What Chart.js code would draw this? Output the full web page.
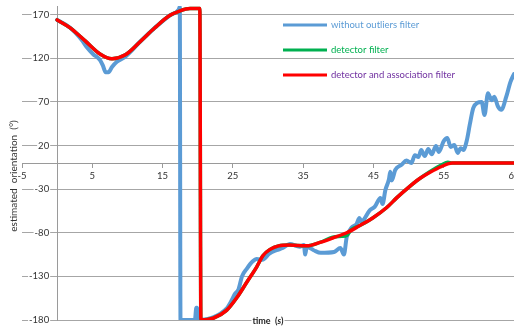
<!DOCTYPE html>
<html>
<head>
<meta charset="utf-8">
<script src="https://cdn.jsdelivr.net/npm/chart.js@4/dist/chart.umd.min.js"></script>
<style>
  html, body { margin: 0; padding: 0; background: #fff; }
  canvas { display: block; }
</style>
</head>
<body>
<canvas id="c" width="514" height="328"></canvas>
<script>
// Estimated orientation over time for three filtering variants.
const seriesNames = ['without outliers filter', 'detector filter', 'detector and association filter'];

// without outliers filter
const rawTime = [0, 1.85, 3.5, 4.2, 5.1, 6.1, 6.5, 6.9, 7.3, 7.8, 8.5, 9.7, 11.8, 13.9, 16, 17.3, 17.45, 17.55,
  19.6, 19.8, 19.9, 20.1, 20.4, 22.2, 24.1, 24.8, 25.3, 25.8, 26.3, 27, 27.8, 28.4, 29.2, 30.2, 31.2, 32.1,
  33.1, 34.5, 35.1, 35.3, 35.5, 36.5, 37.5, 39.4, 40.3, 40.8, 41.2, 41.9, 42.6, 43, 43.3, 44.5, 45.2, 46,
  46.3, 46.7, 47.2, 47.4, 47.6, 48.1, 49, 49.7, 50.4, 50.9, 51.4, 51.8, 52.3, 52.8, 53.3, 53.9, 54.3, 55,
  55.5, 56, 56.5, 57, 57.4, 57.8, 58.3, 58.7, 59.2, 59.8, 60.4, 60.8, 61.3, 61.8, 62.2, 62.7, 63.2, 63.9,
  64.5, 65];
const rawOrientation = [164, 155, 141, 133, 125, 118, 112, 104, 104, 110, 116, 122, 139, 155, 169, 176, 179, -180,
  -180, -166, -166, -180, -180, -177, -167, -158, -150, -145, -130, -121, -113, -110, -111, -104, -100, -97.5,
  -93, -96, -94, -105, -96, -100, -103, -102, -97.5, -105, -85, -74, -70, -63, -67, -54, -50, -40,
  -47, -31, -19, -10, -20, -8, -2, 3, 0, 9, 7, 15, 8, 16, 10, 19.5, 12.6, 25,
  28.7, 18.4, 20.7, 11.5, 17, 15, 26.4, 43.6, 63, 69, 70, 55, 80, 72, 76, 65, 61, 76,
  93, 102];

// detector filter
const detectorTime = [0, 1.85, 4, 6.1, 7.8, 9.7, 11.8, 13.9, 16, 17.5, 18.9, 20.3, 20.45, 22.2, 24.1, 25.6, 27,
  28.4, 29.3, 30.3, 31.5, 33, 35.5, 37.4, 39.2, 40.5, 41.2, 41.9, 43, 44.9, 46.9, 48.3, 50, 51.3, 53, 54.7,
  55.6, 56.2, 60, 65];
const detectorOrientation = [164, 155, 140, 125, 119.5, 124, 139, 155, 169, 174.5, 177, 177, -180, -178, -169, -154, -136.5,
  -119, -106, -99, -95, -94, -95, -91, -85, -84, -83, -76, -72, -63, -51, -40, -28, -19.5, -10, -2,
  1, 0, 0, 0];

// detector and association filter
const assocTime = [0, 1.85, 4, 6.1, 7.8, 9.7, 11.8, 13.9, 16, 17.5, 18.9, 20.3, 20.45, 22.2, 24.1, 25.6, 27,
  28.4, 29.3, 30.3, 31.5, 33, 35.5, 37.4, 39.2, 41.2, 43, 44.9, 46.9, 48.3, 50, 51.3, 53, 54.7, 56.2, 60, 65];
const assocOrientation = [164, 155, 140, 125, 119.5, 124, 139, 155, 169, 174.5, 177, 177, -180, -178, -169, -154, -136.5,
  -119, -106, -99, -95, -94, -95, -91, -86, -80, -72, -63, -51, -40, -28, -19.5, -11, -4, 0, 0, 0];

const yTicks = [170, 120, 70, 20, -30, -80, -130, -180];
const seriesColors = ['#5B9BD5', '#00B050', '#FF0000'];
const legendTextColors = ['#5B9BD5', '#00B050', '#7030A0'];

const toPoints = (ts, vs) => ts.map((t, i) => ({ x: t, y: vs[i] }));

const FONT = 'Lato, "Open Sans", sans-serif';

// y tick labels, axis titles and the in-plot legend
const overlay = {
  id: 'overlay',
  beforeDatasetsDraw(chart) {
    const { ctx, scales: { x, y }, chartArea } = chart;
    ctx.save();
    const axisX = x.getPixelForValue(0);
    ctx.font = '9.5px ' + FONT;
    ctx.textAlign = 'right';
    ctx.textBaseline = 'middle';
    yTicks.forEach(v => {
      const py = y.getPixelForValue(v);
      const label = String(v);
      const w = ctx.measureText(label).width;
      ctx.fillStyle = '#fff';
      ctx.fillRect(axisX - 8 - w - 1, py - 4, w + 2, 8);
      ctx.fillStyle = '#333';
      ctx.fillText(label, axisX - 8, py);
    });

    // x axis title, centred on the plot area
    const cx = (chartArea.left + chartArea.right) / 2;
    const ty = chartArea.bottom + 1;
    const partA = 'time  (', partB = 's', partC = ')';
    ctx.textAlign = 'left';
    ctx.font = 'bold 9px ' + FONT;
    const wA = ctx.measureText(partA).width, wC = ctx.measureText(partC).width;
    ctx.font = 'bold italic 9px ' + FONT;
    const wB = ctx.measureText(partB).width;
    const total = wA + wB + wC;
    const sx = cx - total / 2;
    ctx.fillStyle = '#fff';
    ctx.fillRect(sx - 1, ty - 5, total + 2, 10);
    ctx.fillStyle = '#222';
    ctx.font = 'bold 9px ' + FONT;
    ctx.fillText(partA, sx, ty);
    ctx.font = 'bold italic 9px ' + FONT;
    ctx.fillText(partB, sx + wA, ty);
    ctx.font = 'bold 9px ' + FONT;
    ctx.fillText(partC, sx + wA + wB, ty);

    // y axis title
    ctx.save();
    ctx.translate(14, 176);
    ctx.rotate(-Math.PI / 2);
    ctx.textAlign = 'center';
    ctx.font = '10px ' + FONT;
    ctx.fillStyle = '#333';
    ctx.fillText('estimated  orientation  (°)', 0, 0);
    ctx.restore();

    // legend
    const lx = 283, lw = 44, rows = [25, 50, 75];
    ctx.textAlign = 'left';
    ctx.font = '9.5px ' + FONT;
    seriesNames.forEach((name, i) => {
      ctx.strokeStyle = seriesColors[i];
      ctx.lineWidth = 3;
      ctx.beginPath();
      ctx.moveTo(lx, rows[i]);
      ctx.lineTo(lx + lw, rows[i]);
      ctx.stroke();
      ctx.fillStyle = legendTextColors[i];
      ctx.fillText(name, lx + lw + 4, rows[i]);
    });
    ctx.restore();
  }
};

new Chart(document.getElementById('c'), {
  type: 'line',
  data: {
    datasets: [
      { label: seriesNames[0], data: toPoints(rawTime, rawOrientation), borderColor: seriesColors[0], borderWidth: 4, order: 3 },
      { label: seriesNames[1], data: toPoints(detectorTime, detectorOrientation), borderColor: seriesColors[1], borderWidth: 3.5, order: 2 },
      { label: seriesNames[2], data: toPoints(assocTime, assocOrientation), borderColor: seriesColors[2], borderWidth: 3.5, order: 1 }
    ]
  },
  options: {
    responsive: false,
    animation: false,
    events: [],
    layout: { padding: { left: 22, right: 0, top: 6, bottom: 8 } },
    elements: {
      point: { radius: 0 },
      line: { cubicInterpolationMode: 'monotone', fill: false, borderCapStyle: 'round', borderJoinStyle: 'round' }
    },
    plugins: { legend: { display: false }, tooltip: { enabled: false } },
    scales: {
      x: {
        type: 'linear',
        min: -5,
        max: 65,
        position: { y: 0 },
        ticks: { stepSize: 10, autoSkip: false, maxRotation: 0, padding: 3, color: '#333', font: { family: FONT, size: 9.5 } },
        grid: { drawOnChartArea: false, drawTicks: true, tickLength: 4, color: '#9a9a9a' },
        border: { color: '#9a9a9a' },
        afterFit(s) { s.height = 0; s.paddingLeft = 0; s.paddingRight = 0; }
      },
      y: {
        type: 'linear',
        min: -180,
        max: 180,
        position: { x: 0 },
        afterBuildTicks(s) { s.ticks = yTicks.map(v => ({ value: v })); },
        ticks: { display: false },
        grid: { drawTicks: false, color: '#a6a6a6' },
        border: { color: '#9a9a9a' },
        afterFit(s) { s.width = 0; s.paddingTop = 0; s.paddingBottom = 0; }
      }
    }
  },
  plugins: [overlay]
});
</script>
</body>
</html>
